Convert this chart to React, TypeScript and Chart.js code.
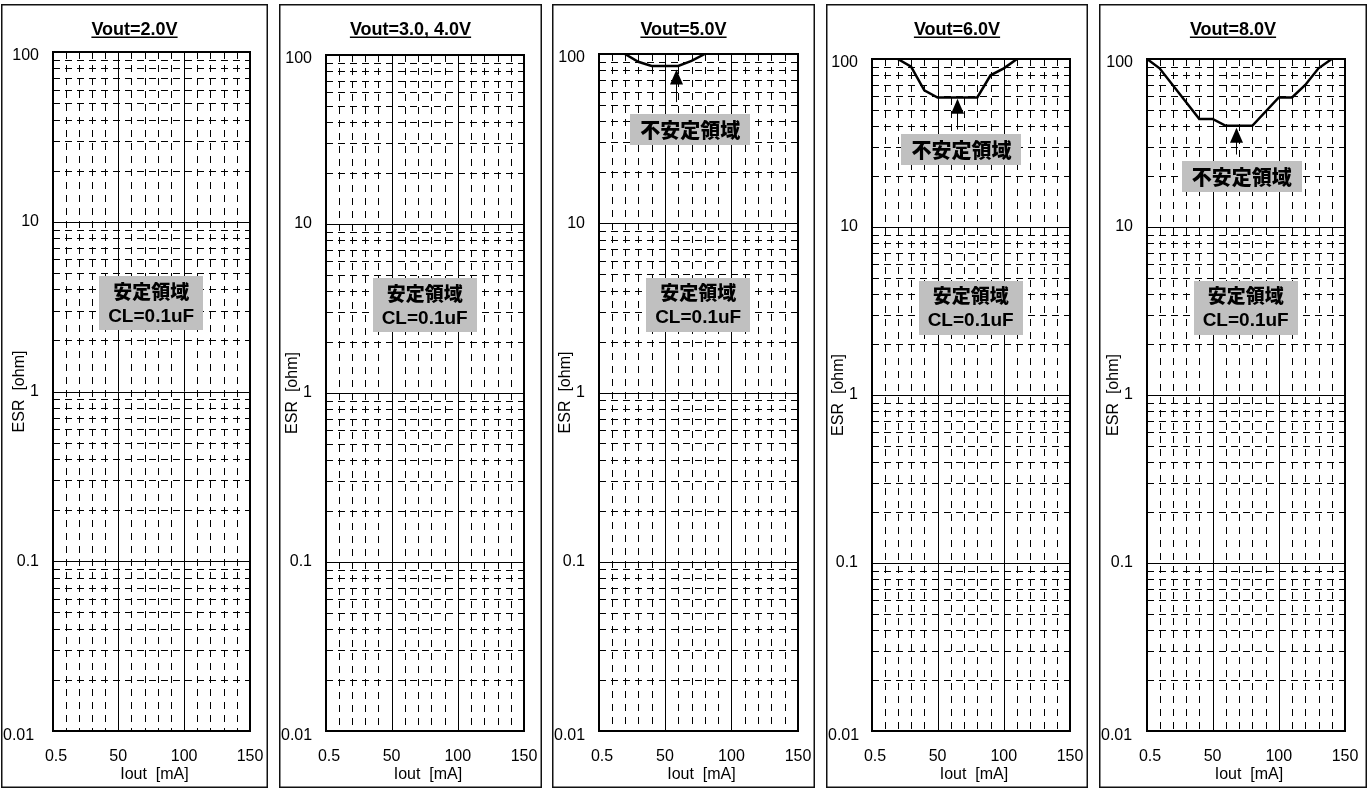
import React, { useEffect, useRef } from "react";
import { Chart, registerables } from "chart.js";

Chart.register(...registerables);

// ---------- data ----------
const panelTitles = ["Vout=2.0V", "Vout=3.0, 4.0V", "Vout=5.0V", "Vout=6.0V", "Vout=8.0V"];
const xTickValues = [0.5, 50, 100, 150];
const xTickLabels = ["0.5", "50", "100", "150"];
const yTickValues = [100, 10, 1, 0.1, 0.01];
const yTickLabels = ["100", "10", "1", "0.1", "0.01"];
const xMinorGrid = [10, 20, 30, 40, 60, 70, 80, 90, 110, 120, 130, 140];
const xMajorGrid = [50, 100];
const yDecades = [0.01, 0.1, 1, 10];
const yMinorSteps = [2, 3, 4, 5, 6, 7, 8, 9];

const v5Iout = [20, 30, 40, 60, 70, 80];
const v5Esr = [100, 90, 85, 85, 91, 100];
const v6Iout = [20, 30, 40, 50, 80, 90, 100, 110];
const v6Esr = [100, 90, 65, 59, 59, 80, 88, 100];
const v8Iout = [0.5, 10, 40, 50, 60, 80, 100, 110, 120, 130, 140];
const v8Esr = [100, 88, 44, 44, 40, 40, 59, 59, 70, 88, 100];

const seriesIout: (number[] | null)[] = [null, null, v5Iout, v6Iout, v8Iout];
const seriesEsr: (number[] | null)[] = [null, null, v5Esr, v6Esr, v8Esr];

const arrowIout = [null, null, 58, 65, 68];
const arrowTipEsr = [null, null, 81, 58, 39];
const arrowTailEsr = [null, null, 52, 38, 27];
const unstableIout = [null, null, 69, 68, 72];
const unstableEsr = [null, null, 36, 29, 20];
const stableIout = 75;
const stableEsr = 3.3;

const stableText1 = "安定領域";
const stableText2 = "CL=0.1uF";
const unstableText = "不安定領域";
const xAxisTitle = "Iout  [mA]";
const yAxisTitle = "ESR  [ohm]";

// ---------- layout ----------
const PANEL_TOP = 4;
const PANEL_BOTTOM = 787;
const PLOT_BOTTOM = 730;
const layouts = [
  { left: 1, right: 267, plotL: 53, plotR: 249, plotT: 52 },
  { left: 279, right: 541, plotL: 326, plotR: 523, plotT: 55 },
  { left: 552, right: 814, plotL: 599, plotR: 797, plotT: 54 },
  { left: 826, right: 1087, plotL: 872, plotR: 1069, plotT: 59 },
  { left: 1099, right: 1366, plotL: 1147, plotR: 1344, plotT: 59 },
];

const LATIN = '"Liberation Sans", Arial, sans-serif';
const CJK = '"Noto Sans CJK JP", "Noto Sans CJK SC", sans-serif';

function line(ctx: CanvasRenderingContext2D, x1: number, y1: number, x2: number, y2: number) {
  ctx.beginPath();
  ctx.moveTo(x1, y1);
  ctx.lineTo(x2, y2);
  ctx.stroke();
}

function makeDecor(idx: number) {
  return {
    id: "decor" + idx,
    beforeDraw(chart: any) {
      const ctx = chart.ctx as CanvasRenderingContext2D;
      ctx.save();
      ctx.fillStyle = "#fff";
      ctx.fillRect(0, 0, chart.width, chart.height);
      ctx.restore();
    },
    beforeDatasetsDraw(chart: any) {
      const ctx = chart.ctx as CanvasRenderingContext2D;
      const { left, right, top, bottom } = chart.chartArea;
      const xs = chart.scales.x;
      const ys = chart.scales.y;
      ctx.save();
      ctx.strokeStyle = "#000";
      ctx.lineWidth = 1;
      ctx.setLineDash([7, 5]);
      for (const d of yDecades) {
        for (const k of yMinorSteps) {
          const y = Math.round(ys.getPixelForValue(k * d)) + 0.5;
          line(ctx, left, y, right, y);
        }
      }
      ctx.setLineDash([7, 6]);
      for (const v of xMinorGrid) {
        const x = Math.round(xs.getPixelForValue(v)) + 0.5;
        line(ctx, x, top, x, bottom);
      }
      ctx.setLineDash([]);
      for (const d of yDecades) {
        const y = Math.round(ys.getPixelForValue(d)) + 0.5;
        line(ctx, left, y, right, y);
      }
      for (const v of xMajorGrid) {
        const x = Math.round(xs.getPixelForValue(v)) + 0.5;
        line(ctx, x, top, x, bottom);
      }
      ctx.restore();
    },
    afterDatasetsDraw(chart: any) {
      const ctx = chart.ctx as CanvasRenderingContext2D;
      const { left, right, top, bottom } = chart.chartArea;
      const xs = chart.scales.x;
      const ys = chart.scales.y;
      const w = chart.width;
      const h = chart.height;
      ctx.save();

      // plot border
      ctx.strokeStyle = "#000";
      ctx.lineWidth = 2;
      ctx.strokeRect(left, top, right - left, bottom - top);

      // panel border
      ctx.lineWidth = 1.5;
      ctx.strokeStyle = "#111";
      ctx.strokeRect(0.75, 0.75, w - 1.5, h - 1.5);

      // title
      ctx.fillStyle = "#000";
      ctx.font = `bold 18px ${LATIN}`;
      ctx.textAlign = "center";
      ctx.textBaseline = "alphabetic";
      const title = panelTitles[idx];
      const tcx = w / 2;
      const tBase = 35 - PANEL_TOP;
      ctx.fillText(title, tcx, tBase);
      const tw = ctx.measureText(title).width;
      ctx.fillRect(tcx - tw / 2, tBase + 1.5, tw, 1.5);

      // y tick labels
      ctx.font = `16px ${LATIN}`;
      ctx.textBaseline = "middle";
      yTickValues.forEach((v, i) => {
        const y = ys.getPixelForValue(v);
        if (v === 0.01) {
          ctx.textAlign = "left";
          ctx.fillText(yTickLabels[i], 2, y + 5);
        } else {
          ctx.textAlign = "right";
          const yy = v === 100 ? y + 4 : y;
          ctx.fillText(yTickLabels[i], left - 14, yy);
        }
      });

      // x tick labels
      ctx.textAlign = "center";
      xTickValues.forEach((v, i) => {
        let x = xs.getPixelForValue(v);
        if (i === 0) x += 3;
        ctx.fillText(xTickLabels[i], x, 757 - PANEL_TOP);
      });

      // axis titles
      ctx.fillText(xAxisTitle, (left + right) / 2 + 3, 775 - PANEL_TOP);
      ctx.save();
      ctx.translate(left - 33, (top + bottom) / 2);
      ctx.rotate(-Math.PI / 2);
      ctx.fillText(yAxisTitle, 0, 0);
      ctx.restore();

      // stable label
      {
        const cx = xs.getPixelForValue(stableIout);
        const cy = ys.getPixelForValue(stableEsr);
        const bw = 104, bh = 54;
        ctx.fillStyle = "#c0c0c0";
        ctx.fillRect(Math.round(cx - bw / 2), Math.round(cy - bh / 2), bw, bh);
        ctx.fillStyle = "#000";
        ctx.textAlign = "center";
        ctx.textBaseline = "middle";
        ctx.font = `900 19px ${CJK}`;
        ctx.fillText(stableText1, cx, cy - 12);
        ctx.font = `bold 19px ${LATIN}`;
        ctx.fillText(stableText2, cx, cy + 13);
      }

      // unstable label + arrow
      const ax = arrowIout[idx];
      if (ax !== null) {
        const x = Math.round(xs.getPixelForValue(ax)) + 0.5;
        const yTip = ys.getPixelForValue(arrowTipEsr[idx] as number);
        const yTail = ys.getPixelForValue(arrowTailEsr[idx] as number);
        ctx.strokeStyle = "#000";
        ctx.lineWidth = 1;
        line(ctx, x, yTip + 10, x, yTail);
        ctx.fillStyle = "#000";
        ctx.beginPath();
        ctx.moveTo(x, yTip);
        ctx.lineTo(x - 6.5, yTip + 15);
        ctx.lineTo(x + 6.5, yTip + 15);
        ctx.closePath();
        ctx.fill();

        const cx = xs.getPixelForValue(unstableIout[idx] as number);
        const cy = ys.getPixelForValue(unstableEsr[idx] as number);
        const bw = 120, bh = 31;
        ctx.fillStyle = "#c0c0c0";
        ctx.fillRect(Math.round(cx - bw / 2), Math.round(cy - bh / 2), bw, bh);
        ctx.fillStyle = "#000";
        ctx.font = `900 20px ${CJK}`;
        ctx.textAlign = "center";
        ctx.textBaseline = "middle";
        ctx.fillText(unstableText, cx, cy + 1);
      }
      ctx.restore();
    },
  };
}

function Panel({ idx }: { idx: number }) {
  const ref = useRef<HTMLCanvasElement>(null);
  const lay = layouts[idx];
  const w = lay.right - lay.left + 1;
  const h = PANEL_BOTTOM - PANEL_TOP + 1;

  useEffect(() => {
    const canvas = ref.current;
    if (!canvas) return;
    const xsArr = seriesIout[idx];
    const ysArr = seriesEsr[idx];
    const datasets: any[] = [];
    if (xsArr && ysArr) {
      datasets.push({
        data: xsArr.map((x, i) => ({ x, y: ysArr[i] })),
        borderColor: "#000",
        borderWidth: 2.5,
        pointRadius: 0,
        tension: 0,
        fill: false,
      });
    }
    const chart = new Chart(canvas, {
      type: "line",
      data: { datasets },
      options: {
        responsive: false,
        maintainAspectRatio: false,
        animation: false,
        devicePixelRatio: 1,
        events: [],
        layout: {
          padding: {
            left: lay.plotL - lay.left,
            right: lay.right - lay.plotR,
            top: lay.plotT - PANEL_TOP,
            bottom: PANEL_BOTTOM - PLOT_BOTTOM,
          },
        },
        scales: {
          x: { type: "linear", min: 0.5, max: 150, display: false },
          y: { type: "logarithmic", min: 0.01, max: 100, display: false },
        },
        plugins: {
          legend: { display: false },
          tooltip: { enabled: false },
          title: { display: false },
        },
      } as any,
      plugins: [makeDecor(idx) as any],
    });
    return () => chart.destroy();
  }, [idx]);

  return (
    <canvas
      ref={ref}
      width={w}
      height={h}
      style={{ position: "absolute", left: lay.left, top: PANEL_TOP, width: w, height: h }}
    />
  );
}

export default function App() {
  return (
    <div style={{ position: "fixed", left: 0, top: 0, width: 1370, height: 789, background: "#fff", overflow: "hidden" }}>
      {layouts.map((_, i) => (
        <Panel key={i} idx={i} />
      ))}
    </div>
  );
}
